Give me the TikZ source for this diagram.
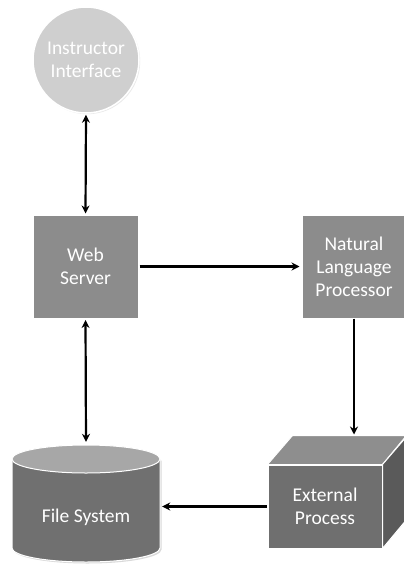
\documentclass[tikz,border=0pt]{standalone}
\usepackage{fontspec}
\setmainfont{Carlito}
\usetikzlibrary{arrows.meta,shadows,calc}
\definecolor{circlegray}{HTML}{CFCFCF}
\definecolor{boxgray}{HTML}{8C8C8C}
\definecolor{frontgray}{HTML}{6F6F6F}
\definecolor{topgray}{HTML}{8E8E8E}
\definecolor{sidegray}{HTML}{5A5A5A}
\definecolor{cylbody}{HTML}{707070}
\definecolor{cylcap}{HTML}{A7A7A7}
\tikzset{
  label text/.style={text=white, align=center, font=\fontsize{19.5}{23}\selectfont},
  soft shadow/.style={drop shadow={opacity=0.18, shadow xshift=1.2pt, shadow yshift=-1.2pt}},
  procbox/.style={rectangle, fill=boxgray, draw=white, line width=1pt, label text,
    minimum width=105pt, minimum height=103pt, inner sep=0pt, soft shadow},
  tip/.style={Stealth[length=8pt,width=8pt]},
  link/.style={line width=2.2pt, -{Stealth[length=8pt,width=8pt]}},
  twoway/.style={line width=2.2pt, {Stealth[length=8pt,width=8pt]}-{Stealth[length=8pt,width=8pt]}},
  face/.style={draw=white, line width=1pt, line join=round}
}
\begin{document}
\begin{tikzpicture}[x=1pt,y=-1pt]
\useasboundingbox (0,0) rectangle (404,570);

% user-facing front end
\node[circle, minimum size=106pt, inner sep=0pt, fill=circlegray, draw=white,
      line width=1.5pt, label text, soft shadow] (ui) at (86,60) {Instructor\\Interface};

% processing boxes
\node[procbox] (web) at (85.5,266.5) {Web\\Server};
\node[procbox, minimum width=104pt] (nlp) at (354,266.5) {Natural\\Language\\Processor};

% storage cylinder (invisible frame node plus drawn body and cap)
\node[minimum width=148pt, minimum height=117pt, inner sep=0pt] (fs) at (86,503.5) {};
\path[fill=black, opacity=0.15] (13.5,460.5) -- (13.5,549.5)
  arc[start angle=180, end angle=360, x radius=74pt, y radius=14pt] -- (161.5,460.5) -- cycle;
\path[fill=cylbody, face] (12,459) -- (12,548)
  arc[start angle=180, end angle=360, x radius=74pt, y radius=14pt]
  -- (160,459) arc[start angle=0, end angle=180, x radius=74pt, y radius=14pt] -- cycle;
\path[fill=cylcap, face] (86,459) ellipse[x radius=74pt, y radius=14pt];
\node[label text] at (86,517) {File System};

% external process cube
\node[rectangle, fill=frontgray, face, label text, minimum width=114pt, minimum height=83pt,
      inner sep=0pt, soft shadow] (ext) at (325,506.5) {External\\Process};
\path[fill=topgray, face] (ext.north west) -- ++(25,-29) -- ++(114,0) -- (ext.north east) -- cycle;
\path[fill=sidegray, face] (ext.north east) -- ++(25,-29) -- ++(0,83) -- (ext.south east) -- cycle;
\coordinate (exttop) at ($(ext.north west)+(25,-29)$);

% connectors
\draw[twoway, shorten <=1pt, shorten >=1pt] (ui.south) -- (web.north);
\draw[link, shorten <=1pt, shorten >=2pt] (web.east) -- (nlp.west);
\draw[link, shorten >=1pt] (nlp.south) -- (nlp.south |- exttop);
\draw[link, shorten <=1pt, shorten >=2pt] (ext.west) -- (ext.west -| fs.east);
\draw[twoway, shorten <=1.5pt, shorten >=3pt] (web.south) -- (fs.north);
\end{tikzpicture}
\end{document}
